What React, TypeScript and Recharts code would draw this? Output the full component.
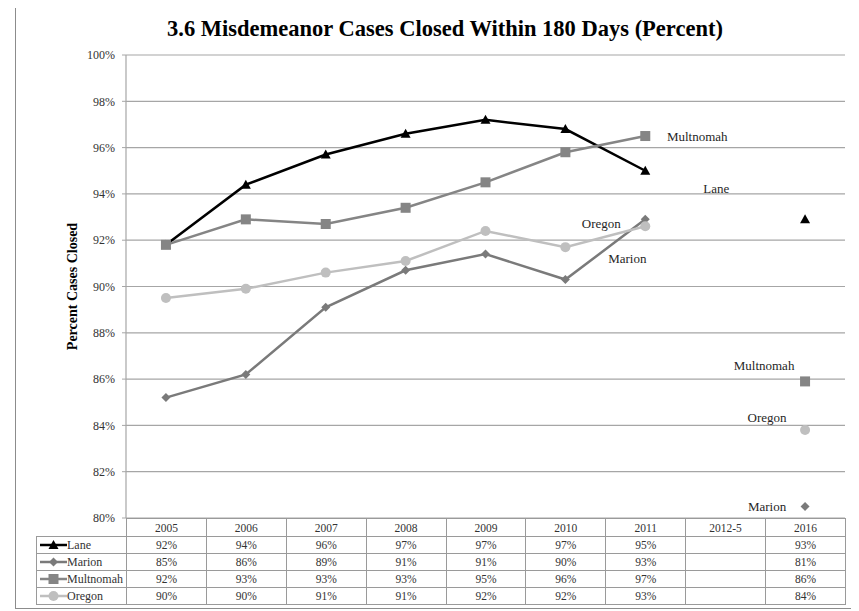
import React from 'react'
import { ComposedChart, Line, XAxis, YAxis, CartesianGrid, LabelList } from 'recharts'

const years = ['2005', '2006', '2007', '2008', '2009', '2010', '2011', '2012-5', '2016']
const lane = [91.8, 94.4, 95.7, 96.6, 97.2, 96.8, 95.0, null, 92.9]
const marion = [85.2, 86.2, 89.1, 90.7, 91.4, 90.3, 92.9, null, 80.5]
const multnomah = [91.8, 92.9, 92.7, 93.4, 94.5, 95.8, 96.5, null, 85.9]
const oregon = [89.5, 89.9, 90.6, 91.1, 92.4, 91.7, 92.6, null, 83.8]
const yTicks = [80, 82, 84, 86, 88, 90, 92, 94, 96, 98, 100]

const FONT = '"Liberation Serif", "Times New Roman", serif'

const data = years.map((year, i) => ({
  year,
  Lane: lane[i],
  Marion: marion[i],
  Multnomah: multnomah[i],
  Oregon: oregon[i],
}))

type Shape = 'triangle' | 'diamond' | 'square' | 'circle'

// label offsets (from the point) for the names written inside the plot
const series: {
  key: string
  values: (number | null)[]
  color: string
  shape: Shape
  labels: Record<number, [number, number]>
}[] = [
  { key: 'Lane', values: lane, color: '#000000', shape: 'triangle', labels: { 6: [71, 18] } },
  { key: 'Marion', values: marion, color: '#7a7a7a', shape: 'diamond', labels: { 6: [-18, 39], 8: [-38, 0] } },
  { key: 'Multnomah', values: multnomah, color: '#858585', shape: 'square', labels: { 6: [52, 0], 8: [-41, -16] } },
  { key: 'Oregon', values: oregon, color: '#bfbfbf', shape: 'circle', labels: { 6: [-44, -3], 8: [-38, -13] } },
]

function Marker({ shape, cx, cy, color }: { shape: Shape; cx: number; cy: number; color: string }) {
  if (shape === 'triangle')
    return <polygon points={`${cx},${cy - 5} ${cx + 5},${cy + 4} ${cx - 5},${cy + 4}`} fill={color} />
  if (shape === 'diamond')
    return <polygon points={`${cx},${cy - 4.5} ${cx + 4.5},${cy} ${cx},${cy + 4.5} ${cx - 4.5},${cy}`} fill={color} />
  if (shape === 'square') return <rect x={cx - 5} y={cy - 5} width={10} height={10} fill={color} />
  return <circle cx={cx} cy={cy} r={5} fill={color} />
}

const plotLeft = 126
const plotRight = 845
const plotTop = 55
const plotBottom = 518
const colW = (plotRight - plotLeft) / years.length

const cellBorder = '1px solid #9a9a9a'

function DataTable() {
  const rowH = 17
  return (
    <table
      style={{
        position: 'absolute',
        left: 36,
        top: plotBottom,
        width: plotRight - 36,
        borderCollapse: 'collapse',
        tableLayout: 'fixed',
        fontFamily: FONT,
        fontSize: 11.5,
        color: '#333',
      }}
    >
      <colgroup>
        <col style={{ width: plotLeft - 36 }} />
        {years.map((y) => (
          <col key={y} style={{ width: colW }} />
        ))}
      </colgroup>
      <tbody>
        <tr style={{ height: 18 }}>
          <td style={{ borderTop: 'none', borderLeft: 'none', borderBottom: cellBorder, borderRight: cellBorder, padding: 0 }} />
          {years.map((y) => (
            <td key={y} style={{ border: cellBorder, textAlign: 'center', padding: 0 }}>
              {y}
            </td>
          ))}
        </tr>
        {series.map((s) => (
          <tr key={s.key} style={{ height: rowH }}>
            <td style={{ border: cellBorder, padding: 0, whiteSpace: 'nowrap', fontSize: 12 }}>
              <svg width={28} height={12} style={{ verticalAlign: 'middle', marginLeft: 2 }}>
                <line x1={1} y1={6} x2={28} y2={6} stroke={s.color} strokeWidth={2.5} />
                <Marker shape={s.shape} cx={14.5} cy={6} color={s.color} />
              </svg>
              <span style={{ verticalAlign: 'middle' }}>{s.key}</span>
            </td>
            {s.values.map((v, i) => (
              <td key={i} style={{ border: cellBorder, textAlign: 'center', padding: 0 }}>
                {v == null ? '' : `${Math.round(v)}%`}
              </td>
            ))}
          </tr>
        ))}
      </tbody>
    </table>
  )
}

export default function App() {
  return (
    <div style={{ position: 'relative', left: -8, top: -8, width: 859, height: 611, background: '#fff' }}>
      <div
        style={{
          position: 'absolute',
          left: 15,
          top: 4,
          width: 841,
          height: 605,
          border: '1px solid #8c8c8c',
          boxSizing: 'border-box',
        }}
      />
      <div
        style={{
          position: 'absolute',
          left: 15,
          width: 860,
          top: 16,
          textAlign: 'center',
          fontFamily: FONT,
          fontWeight: 'bold',
          fontSize: 22.5,
          color: '#000',
        }}
      >
        3.6 Misdemeanor Cases Closed Within 180 Days (Percent)
      </div>
      <svg style={{ position: 'absolute', left: 0, top: 0 }} width={859} height={611}>
        <text
          transform={`translate(72, ${(plotTop + plotBottom) / 2}) rotate(-90)`}
          textAnchor="middle"
          dominantBaseline="central"
          fontFamily={FONT}
          fontWeight="bold"
          fontSize={14}
          fill="#000"
        >
          Percent Cases Closed
        </text>
      </svg>
      <div style={{ position: 'absolute', left: 0, top: 0 }}>
        <ComposedChart
          width={859}
          height={611}
          data={data}
          margin={{ top: plotTop, right: 859 - plotRight, bottom: 611 - plotBottom, left: plotLeft - 60 }}
        >
          <CartesianGrid vertical={false} stroke="#a6a6a6" strokeWidth={1.2} />
          <XAxis dataKey="year" hide scale="band" />
          <YAxis
            width={60}
            domain={[80, 100]}
            ticks={yTicks}
            interval={0}
            tickFormatter={(v) => `${v}%`}
            axisLine={{ stroke: '#a6a6a6', strokeWidth: 1.2 }}
            tickLine={{ stroke: '#a6a6a6' }}
            tickSize={4}
            tickMargin={7}
            tick={{ fill: '#333333', fontSize: 12, fontFamily: FONT }}
          />
          {series.map((s) => (
            <Line
              key={s.key}
              dataKey={s.key}
              stroke={s.color}
              strokeWidth={2.5}
              isAnimationActive={false}
              connectNulls={false}
              dot={(p: any) =>
                p.value == null || p.cy == null ? (
                  <g key={`${s.key}-${p.index}`} />
                ) : (
                  <Marker key={`${s.key}-${p.index}`} shape={s.shape} cx={p.cx} cy={p.cy} color={s.color} />
                )
              }
              activeDot={false}
            >
              <LabelList
                dataKey={s.key}
                content={(p: any) => {
                  const off = s.labels[p.index]
                  if (!off || p.value == null) return null
                  return (
                    <text
                      x={p.x + off[0]}
                      y={p.y + off[1]}
                      textAnchor="middle"
                      dominantBaseline="central"
                      fontFamily={FONT}
                      fontSize={13}
                      fill="#262626"
                    >
                      {s.key}
                    </text>
                  )
                }}
              />
            </Line>
          ))}
        </ComposedChart>
      </div>
      <DataTable />
    </div>
  )
}
